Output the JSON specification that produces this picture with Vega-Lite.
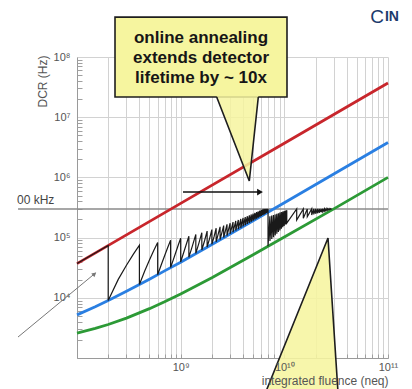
{
  "$schema": "https://vega.github.io/schema/vega-lite/v6.json",
  "width": 311,
  "height": 301,
  "autosize": {"type": "none"},
  "padding": {"left": 77, "top": 57, "right": 24, "bottom": 31},
  "background": "white",
  "config": {"view": {"stroke": null}, "font": "Liberation Sans"},
  "resolve": {"axis": {"x": "independent", "y": "independent"}},
  "layer": [
    {
      "data": {"values": [{"f": 2.7e7, "f2": 1e11, "d": 300000}]},
      "mark": {"type": "rule", "color": "#8a8a8a", "strokeWidth": 1.5},
      "encoding": {
        "x": {"field": "f", "type": "quantitative", "scale": {"type": "log", "domain": [1e8, 1e11], "nice": false},
          "axis": {"orient": "bottom", "values": [1e8,2e8,3e8,4e8,5e8,6e8,7e8,8e8,9e8,1e9,2e9,3e9,4e9,5e9,6e9,7e9,8e9,9e9,1e10,2e10,3e10,4e10,5e10,6e10,7e10,8e10,9e10,1e11],
            "grid": true, "gridColor": "#d2d2d2", "gridWidth": 1, "tickSize": -4, "tickColor": "#a0a0a0", "labels": false, "domainColor": "#9a9a9a", "title": null, "zindex": 0}},
        "x2": {"field": "f2"},
        "y": {"field": "d", "type": "quantitative", "scale": {"type": "log", "domain": [1000, 1e8], "nice": false},
          "axis": {"orient": "left", "values": [1000, 10000, 100000, 1000000, 10000000, 100000000],
            "grid": true, "gridColor": "#d2d2d2", "ticks": false, "domainColor": "#9a9a9a",
            "labelExpr": "datum.value > 5000 ? '10' + ['⁰','¹','²','³','⁴','⁵','⁶','⁷','⁸','⁹'][round(log(datum.value)/LN10)] : ''",
            "labelFontSize": 11, "labelColor": "#555", "labelPadding": 7, "labelOverlap": false, "labelBound": false, "labelFlush": false,
            "title": "DCR (Hz)", "titleFontSize": 12, "titleFontWeight": "normal", "titleColor": "#555", "titleX": -35, "titleY": 24, "titleAngle": 270, "titleAlign": "center", "titleBaseline": "middle", "zindex": 0}}
      }
    },
    {
      "data": {"values": [{"f": 2.638e7, "d": 361500, "t": "00 kHz"}]},
      "mark": {"type": "text", "align": "left", "baseline": "alphabetic", "fontSize": 12, "color": "#444"},
      "encoding": {
        "x": {"field": "f", "type": "quantitative", "scale": {"type": "log", "domain": [1e8, 1e11], "nice": false}, "axis": null},
        "y": {"field": "d", "type": "quantitative", "scale": {"type": "log", "domain": [1000, 1e8], "nice": false}, "axis": null},
        "text": {"field": "t"}
      }
    },
    {
      "data": {"values": [
        {"s": "red", "f": 1e8, "d": 37000}, {"s": "red", "f": 1e9, "d": 370000}, {"s": "red", "f": 1e10, "d": 3700000}, {"s": "red", "f": 1e11, "d": 37000000},
        {"s": "blue", "f": 1e8, "d": 5200}, {"s": "blue", "f": 1.5e8, "d": 7100}, {"s": "blue", "f": 2e8, "d": 9000}, {"s": "blue", "f": 3e8, "d": 12800}, {"s": "blue", "f": 5e8, "d": 20400}, {"s": "blue", "f": 7e8, "d": 28000}, {"s": "blue", "f": 1e9, "d": 39000}, {"s": "blue", "f": 2e9, "d": 77000}, {"s": "blue", "f": 5e9, "d": 190000}, {"s": "blue", "f": 1e10, "d": 380000}, {"s": "blue", "f": 3e10, "d": 1140000}, {"s": "blue", "f": 1e11, "d": 3800000},
        {"s": "green", "f": 1e8, "d": 2600}, {"s": "green", "f": 1.5e8, "d": 3100}, {"s": "green", "f": 2e8, "d": 3600}, {"s": "green", "f": 3e8, "d": 4600}, {"s": "green", "f": 5e8, "d": 6600}, {"s": "green", "f": 7e8, "d": 8600}, {"s": "green", "f": 1e9, "d": 11600}, {"s": "green", "f": 2e9, "d": 21600}, {"s": "green", "f": 5e9, "d": 52000}, {"s": "green", "f": 1e10, "d": 102000}, {"s": "green", "f": 3e10, "d": 300000}, {"s": "green", "f": 1e11, "d": 1000000}
      ]},
      "mark": {"type": "line", "strokeWidth": 2.8},
      "encoding": {
        "x": {"field": "f", "type": "quantitative", "scale": {"type": "log", "domain": [1e8, 1e11], "nice": false}, "axis": null},
        "y": {"field": "d", "type": "quantitative", "scale": {"type": "log", "domain": [1000, 1e8], "nice": false},
          "axis": {"orient": "left", "values": [2000,3000,4000,5000,6000,7000,8000,9000,20000,30000,40000,50000,60000,70000,80000,90000,200000,300000,400000,500000,600000,700000,800000,900000,2000000,3000000,4000000,5000000,6000000,7000000,8000000,9000000,20000000,30000000,40000000,50000000,60000000,70000000,80000000,90000000],
            "grid": false, "labels": false, "domain": false, "tickSize": -5, "tickColor": "#a0a0a0", "title": null, "zindex": 0}},
        "color": {"field": "s", "type": "nominal", "scale": {"domain": ["red", "blue", "green"], "range": ["#c8262c", "#2a7fe2", "#2c9a36"]}, "legend": null}
      }
    },
    {
      "data": {"values": [
        {"i":0,"f":1e8,"d":37000},{"i":1,"f":2e8,"d":74000},{"i":2,"f":2e8,"d":9000},
        {"i":3,"f":2.5e8,"d":20220},{"i":4,"f":3e8,"d":34740},{"i":5,"f":3.5e8,"d":53220},{"i":6,"f":4e8,"d":75000},{"i":7,"f":4e8,"d":16600},
        {"i":8,"f":4.5e8,"d":27820},{"i":9,"f":5e8,"d":42340},{"i":10,"f":5.5e8,"d":60820},{"i":11,"f":6e8,"d":82600},{"i":12,"f":6e8,"d":24200},
        {"i":13,"f":6.5e8,"d":35420},{"i":14,"f":7e8,"d":49940},{"i":15,"f":7.5e8,"d":68420},{"i":16,"f":8e8,"d":90200},{"i":17,"f":8e8,"d":31800},
        {"i":18,"f":8.5e8,"d":43020},{"i":19,"f":9e8,"d":57540},{"i":20,"f":9.5e8,"d":76020},{"i":21,"f":1e9,"d":97800},{"i":22,"f":1e9,"d":39400},
        {"i":23,"f":1.1e9,"d":65800},{"i":24,"f":1.2e9,"d":105400},{"i":25,"f":1.2e9,"d":47000},
        {"i":26,"f":1.3e9,"d":73400},{"i":27,"f":1.4e9,"d":113000},{"i":28,"f":1.4e9,"d":54600},
        {"i":29,"f":1.5e9,"d":81000},{"i":30,"f":1.6e9,"d":120600},{"i":31,"f":1.6e9,"d":62200},
        {"i":32,"f":1.7e9,"d":88600},{"i":33,"f":1.8e9,"d":128200},{"i":34,"f":1.8e9,"d":69800},
        {"i":35,"f":1.9e9,"d":96200},{"i":36,"f":2.0e9,"d":135800},{"i":37,"f":2.0e9,"d":77400},
        {"i":38,"f":2.1e9,"d":103800},{"i":39,"f":2.2e9,"d":143400},{"i":40,"f":2.2e9,"d":85000},
        {"i":41,"f":2.4e9,"d":151000},{"i":42,"f":2.4e9,"d":92600},
        {"i":43,"f":2.6e9,"d":158600},{"i":44,"f":2.6e9,"d":100200},
        {"i":45,"f":2.8e9,"d":166200},{"i":46,"f":2.8e9,"d":107800},
        {"i":47,"f":3.0e9,"d":173800},{"i":48,"f":3.0e9,"d":115400},
        {"i":49,"f":3.2e9,"d":181400},{"i":50,"f":3.2e9,"d":123000},
        {"i":51,"f":3.4e9,"d":189000},{"i":52,"f":3.4e9,"d":130600},
        {"i":53,"f":3.6e9,"d":196600},{"i":54,"f":3.6e9,"d":138200},
        {"i":55,"f":3.8e9,"d":204200},{"i":56,"f":3.8e9,"d":145800},
        {"i":57,"f":4.0e9,"d":211800},{"i":58,"f":4.0e9,"d":153400},
        {"i":59,"f":4.2e9,"d":219400},{"i":60,"f":4.2e9,"d":161000},
        {"i":61,"f":4.4e9,"d":227000},{"i":62,"f":4.4e9,"d":168600},
        {"i":63,"f":4.6e9,"d":234600},{"i":64,"f":4.6e9,"d":176200},
        {"i":65,"f":4.8e9,"d":242200},{"i":66,"f":4.8e9,"d":183800},
        {"i":67,"f":5.0e9,"d":249800},{"i":68,"f":5.0e9,"d":191400},
        {"i":69,"f":5.2e9,"d":257400},{"i":70,"f":5.2e9,"d":199000},
        {"i":71,"f":5.4e9,"d":265000},{"i":72,"f":5.4e9,"d":206600},
        {"i":73,"f":5.6e9,"d":272600},{"i":74,"f":5.6e9,"d":214200},
        {"i":75,"f":5.8e9,"d":280200},{"i":76,"f":5.8e9,"d":221800},
        {"i":77,"f":6.0e9,"d":287800},{"i":78,"f":6.0e9,"d":229400},
        {"i":79,"f":6.2e9,"d":295400},{"i":80,"f":6.2e9,"d":237000},
        {"i":81,"f":6.39e9,"d":300000},{"i":82,"f":6.39e9,"d":244200},
        {"i":83,"f":6.56e9,"d":300000},{"i":84,"f":6.56e9,"d":250700},
        {"i":85,"f":6.71e9,"d":300000},{"i":86,"f":6.71e9,"d":256400},
        {"i":87,"f":6.84e9,"d":300000},{"i":88,"f":6.84e9,"d":261300},
        {"i":89,"f":6.96e9,"d":300000},{"i":90,"f":6.96e9,"d":71600},
        {"i":91,"f":7.26e9,"d":226000},{"i":92,"f":7.26e9,"d":87900},
        {"i":93,"f":7.56e9,"d":232000},{"i":94,"f":7.56e9,"d":94900},
        {"i":95,"f":7.86e9,"d":237000},{"i":96,"f":7.86e9,"d":101600},
        {"i":97,"f":8.16e9,"d":243000},{"i":98,"f":8.16e9,"d":108900},
        {"i":99,"f":8.46e9,"d":248000},{"i":100,"f":8.46e9,"d":116200},
        {"i":101,"f":8.76e9,"d":254000},{"i":102,"f":8.76e9,"d":124000},
        {"i":103,"f":9.06e9,"d":260000},{"i":104,"f":9.06e9,"d":131800},
        {"i":105,"f":9.36e9,"d":265000},{"i":106,"f":9.36e9,"d":140000},
        {"i":107,"f":9.66e9,"d":271000},{"i":108,"f":9.66e9,"d":148300},
        {"i":109,"f":9.96e9,"d":276000},{"i":110,"f":9.96e9,"d":156400},
        {"i":111,"f":1.026e10,"d":281000},{"i":112,"f":1.026e10,"d":165600},
        {"i":113,"f":1.056e10,"d":286000},{"i":114,"f":1.056e10,"d":174900},
        {"i":115,"f":1.316e10,"d":300000},{"i":116,"f":1.316e10,"d":196100},
        {"i":117,"f":1.524e10,"d":300000},{"i":118,"f":1.524e10,"d":209200},
        {"i":119,"f":1.665e10,"d":300000},{"i":120,"f":1.665e10,"d":222400},
        {"i":121,"f":1.836e10,"d":300000},{"i":122,"f":1.836e10,"d":237400},
        {"i":123,"f":1.922e10,"d":300000},{"i":124,"f":1.922e10,"d":242900},
        {"i":125,"f":2.007e10,"d":300000},{"i":126,"f":2.007e10,"d":248500},
        {"i":127,"f":2.093e10,"d":300000},{"i":128,"f":2.093e10,"d":254300},
        {"i":129,"f":2.178e10,"d":300000},{"i":130,"f":2.178e10,"d":259200},
        {"i":131,"f":2.264e10,"d":300000},{"i":132,"f":2.264e10,"d":265200},
        {"i":133,"f":2.35e10,"d":300000},{"i":134,"f":2.35e10,"d":270400},
        {"i":135,"f":2.435e10,"d":300000},{"i":136,"f":2.435e10,"d":275600},
        {"i":137,"f":2.521e10,"d":300000},{"i":138,"f":2.521e10,"d":280900},
        {"i":139,"f":2.606e10,"d":300000},{"i":140,"f":2.606e10,"d":285200},
        {"i":141,"f":2.692e10,"d":300000},{"i":142,"f":2.692e10,"d":290700},
        {"i":143,"f":2.778e10,"d":300000},{"i":144,"f":2.778e10,"d":295200},
        {"i":145,"f":2.863e10,"d":300000}
      ]},
      "mark": {"type": "line", "color": "#1a1a1a", "strokeWidth": 1.2},
      "encoding": {
        "x": {"field": "f", "type": "quantitative", "scale": {"type": "log", "domain": [1e8, 1e11], "nice": false}, "axis": null},
        "y": {"field": "d", "type": "quantitative", "scale": {"type": "log", "domain": [1000, 1e8], "nice": false}, "axis": null},
        "order": {"field": "i", "type": "quantitative"}
      }
    },
    {
      "data": {"values": [{"f": 2.326e8, "f2": 1.061e10, "d": 4.6e8, "d2": 2.17e7}]},
      "mark": {"type": "rect", "fill": "#f6f59f", "stroke": "#1e1e1e", "strokeWidth": 1.6},
      "encoding": {
        "x": {"field": "f", "type": "quantitative", "scale": {"type": "log", "domain": [1e8, 1e11], "nice": false}, "axis": null},
        "x2": {"field": "f2"},
        "y": {"field": "d", "type": "quantitative", "scale": {"type": "log", "domain": [1000, 1e8], "nice": false}, "axis": null},
        "y2": {"field": "d2"}
      }
    },
    {
      "data": {"values": [{"f": 2.326e8, "d": 2.25e7, "d2": 2.25e7}]},
      "mark": {"type": "point", "opacity": 0},
      "encoding": {
        "x": {"field": "f", "type": "quantitative", "scale": {"type": "log", "domain": [1e8, 1e11], "nice": false}, "axis": null},
        "y": {"field": "d", "type": "quantitative", "scale": {"type": "log", "domain": [1000, 1e8], "nice": false}, "axis": null}
      }
    },
    {
      "data": {"values": [{"f": 2.226e9, "d": 2.25e7, "d2": 2.25e7}, {"f": 4.592e9, "d": 2.25e7, "d2": 871400}, {"f": 5.61e9, "d": 2.25e7, "d2": 2.25e7}]},
      "mark": {"type": "area", "color": "#f6f59f", "opacity": 0.85},
      "encoding": {
        "x": {"field": "f", "type": "quantitative", "scale": {"type": "log", "domain": [1e8, 1e11], "nice": false}, "axis": null},
        "y": {"field": "d", "type": "quantitative", "scale": {"type": "log", "domain": [1000, 1e8], "nice": false}, "axis": null},
        "y2": {"field": "d2"}
      }
    },
    {
      "data": {"values": [{"i": 0, "f": 2.226e9, "d": 2.165e7}, {"i": 1, "f": 4.592e9, "d": 871400}, {"i": 2, "f": 5.61e9, "d": 2.165e7}]},
      "mark": {"type": "line", "color": "#1e1e1e", "strokeWidth": 1.6},
      "encoding": {
        "x": {"field": "f", "type": "quantitative", "scale": {"type": "log", "domain": [1e8, 1e11], "nice": false}, "axis": null},
        "y": {"field": "d", "type": "quantitative", "scale": {"type": "log", "domain": [1000, 1e8], "nice": false}, "axis": null},
        "order": {"field": "i", "type": "quantitative"}
      }
    },
    {
      "data": {"values": [{"f": 1.571e9, "d": 2.069e8, "t": "online annealing\nextends detector\nlifetime by ~ 10x"}]},
      "mark": {"type": "text", "lineBreak": "\n", "lineHeight": 20, "fontSize": 17, "fontWeight": "bold", "align": "center", "baseline": "middle", "color": "#161616"},
      "encoding": {
        "x": {"field": "f", "type": "quantitative", "scale": {"type": "log", "domain": [1e8, 1e11], "nice": false}, "axis": null},
        "y": {"field": "d", "type": "quantitative", "scale": {"type": "log", "domain": [1000, 1e8], "nice": false}, "axis": null},
        "text": {"field": "t"}
      }
    },
    {
      "data": {"values": [{"i": 0, "f": 1.053e9, "d": 571000}, {"i": 1, "f": 5.825e9, "d": 571000}]},
      "mark": {"type": "line", "color": "#111", "strokeWidth": 1.6},
      "encoding": {
        "x": {"field": "f", "type": "quantitative", "scale": {"type": "log", "domain": [1e8, 1e11], "nice": false}, "axis": null},
        "y": {"field": "d", "type": "quantitative", "scale": {"type": "log", "domain": [1000, 1e8], "nice": false}, "axis": null},
        "order": {"field": "i", "type": "quantitative"}
      }
    },
    {
      "data": {"values": [{"f": 5.825e9, "d": 571000}]},
      "mark": {"type": "point", "shape": "triangle-right", "size": 45, "filled": true, "color": "#111", "opacity": 1},
      "encoding": {
        "x": {"field": "f", "type": "quantitative", "scale": {"type": "log", "domain": [1e8, 1e11], "nice": false}, "axis": null},
        "y": {"field": "d", "type": "quantitative", "scale": {"type": "log", "domain": [1000, 1e8], "nice": false}, "axis": null}
      }
    },
    {
      "data": {"values": [{"i": 0, "f": 2.697e7, "d": 2230}, {"i": 1, "f": 1.508e8, "d": 25800}]},
      "mark": {"type": "line", "color": "#777", "strokeWidth": 1},
      "encoding": {
        "x": {"field": "f", "type": "quantitative", "scale": {"type": "log", "domain": [1e8, 1e11], "nice": false}, "axis": null},
        "y": {"field": "d", "type": "quantitative", "scale": {"type": "log", "domain": [1000, 1e8], "nice": false}, "axis": null},
        "order": {"field": "i", "type": "quantitative"}
      }
    },
    {
      "data": {"values": [{"f": 1.475e8, "d": 24850}]},
      "mark": {"type": "point", "shape": "triangle-up", "size": 25, "filled": true, "color": "#777", "opacity": 1, "angle": 50},
      "encoding": {
        "x": {"field": "f", "type": "quantitative", "scale": {"type": "log", "domain": [1e8, 1e11], "nice": false}, "axis": null},
        "y": {"field": "d", "type": "quantitative", "scale": {"type": "log", "domain": [1000, 1e8], "nice": false}, "axis": null}
      }
    },
    {
      "data": {"values": [{"f": 6.157e9, "d": 200, "d2": 200}, {"f": 2.638e10, "d": 98500, "d2": 200}, {"f": 3.331e10, "d": 200, "d2": 200}]},
      "mark": {"type": "area", "color": "#f6f59f", "opacity": 0.88},
      "encoding": {
        "x": {"field": "f", "type": "quantitative", "scale": {"type": "log", "domain": [1e8, 1e11], "nice": false}, "axis": null},
        "y": {"field": "d", "type": "quantitative", "scale": {"type": "log", "domain": [1000, 1e8], "nice": false}, "axis": null},
        "y2": {"field": "d2"}
      }
    },
    {
      "data": {"values": [{"i": 0, "f": 6.157e9, "d": 200}, {"i": 1, "f": 2.638e10, "d": 98500}, {"i": 2, "f": 3.331e10, "d": 200}]},
      "mark": {"type": "line", "color": "#1e1e1e", "strokeWidth": 1.6},
      "encoding": {
        "x": {"field": "f", "type": "quantitative", "scale": {"type": "log", "domain": [1e8, 1e11], "nice": false}, "axis": null},
        "y": {"field": "d", "type": "quantitative", "scale": {"type": "log", "domain": [1000, 1e8], "nice": false}, "axis": null},
        "order": {"field": "i", "type": "quantitative"}
      }
    },
    {
      "data": {"values": [{"f": 7.83e10, "d": 4.62e8, "t": "C"}]},
      "mark": {"type": "text", "align": "center", "baseline": "middle", "fontSize": 19, "color": "#1c3a6c"},
      "encoding": {
        "x": {"field": "f", "type": "quantitative", "scale": {"type": "log", "domain": [1e8, 1e11], "nice": false}, "axis": null},
        "y": {"field": "d", "type": "quantitative", "scale": {"type": "log", "domain": [1000, 1e8], "nice": false}, "axis": null},
        "text": {"field": "t"}
      }
    },
    {
      "data": {"values": [{"f": 9.35e10, "d": 4.62e8, "t": "IN"}]},
      "mark": {"type": "text", "align": "left", "baseline": "middle", "fontSize": 14, "fontWeight": "bold", "color": "#1c3a6c"},
      "encoding": {
        "x": {"field": "f", "type": "quantitative", "scale": {"type": "log", "domain": [1e8, 1e11], "nice": false},
          "axis": {"orient": "bottom", "values": [1e9, 1e10, 1e11], "grid": false, "ticks": false, "domain": false,
            "labelExpr": "'10' + ['⁰','¹','²','³','⁴','⁵','⁶','⁷','⁸','⁹','¹⁰','¹¹'][round(log(datum.value)/LN10)]",
            "labelFontSize": 11, "labelColor": "#555", "labelPadding": 3, "labelOverlap": false, "labelFlush": false, "labelBound": false,
            "title": "integrated fluence (neq)", "titleFontSize": 12, "titleFontWeight": "normal", "titleColor": "#555",
            "titleAlign": "right", "titleX": 311, "titleY": 26, "titleBaseline": "alphabetic", "zindex": 1}},
        "y": {"field": "d", "type": "quantitative", "scale": {"type": "log", "domain": [1000, 1e8], "nice": false}, "axis": null},
        "text": {"field": "t"}
      }
    }
  ]
}
